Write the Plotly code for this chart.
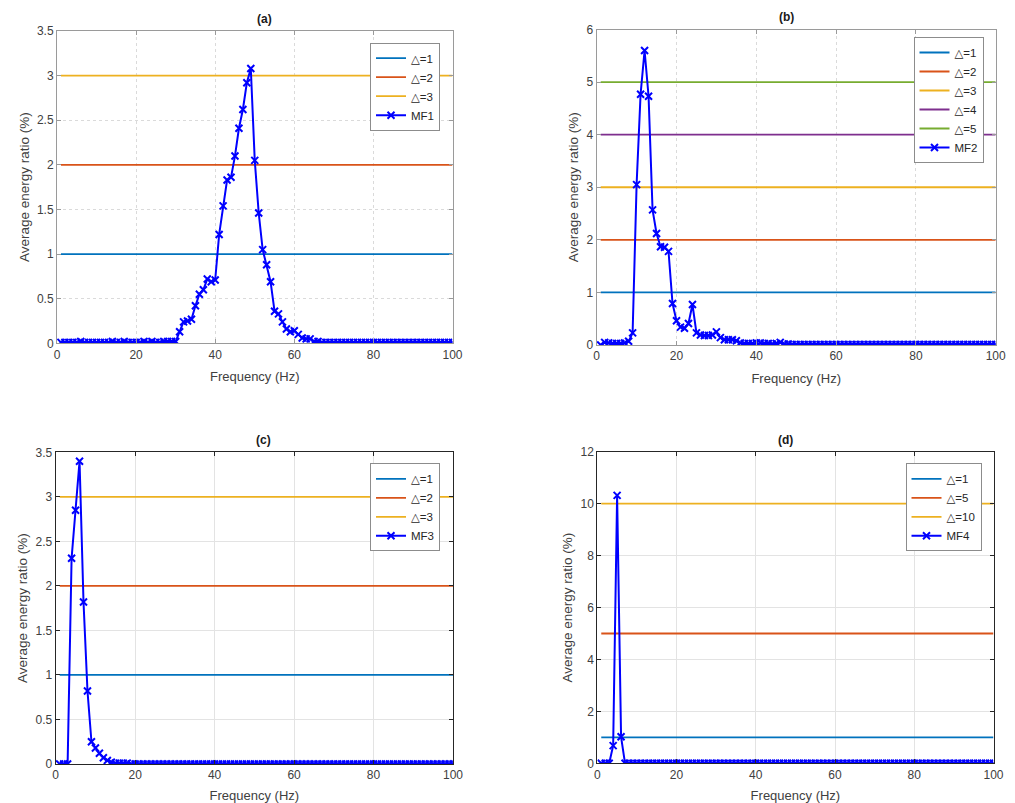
import plotly.graph_objects as go

# ---------------- data ----------------
freq = list(range(1, 101))

mf1 = [
    0.01, 0.01, 0.01, 0.01, 0.01, 0.02, 0.01, 0.01, 0.01, 0.01,
    0.01, 0.01, 0.01, 0.02, 0.01, 0.01, 0.02, 0.01, 0.01, 0.01,
    0.01, 0.02, 0.01, 0.02, 0.01, 0.01, 0.02, 0.02, 0.02, 0.02,
    0.13, 0.24, 0.25, 0.27, 0.42, 0.55, 0.60, 0.72, 0.69, 0.71,
    1.22, 1.54, 1.83, 1.86, 2.10, 2.41, 2.62, 2.92, 3.08, 2.05,
    1.46, 1.05, 0.88, 0.69, 0.36, 0.33, 0.24, 0.16, 0.13, 0.14,
    0.10, 0.06, 0.05, 0.05, 0.02, 0.02, 0.01, 0.01, 0.01, 0.01,
    0.01, 0.01, 0.01, 0.01, 0.01, 0.01, 0.01, 0.01, 0.01, 0.01,
    0.01, 0.01, 0.01, 0.01, 0.01, 0.01, 0.01, 0.01, 0.01, 0.01,
    0.01, 0.01, 0.01, 0.01, 0.01, 0.01, 0.01, 0.01, 0.01, 0.01,
]

mf2 = [
    0.00, 0.05, 0.04, 0.03, 0.03, 0.03, 0.04, 0.07, 0.23, 3.05,
    4.77, 5.60, 4.73, 2.57, 2.12, 1.87, 1.86, 1.78, 0.79, 0.46,
    0.34, 0.32, 0.41, 0.77, 0.23, 0.19, 0.18, 0.18, 0.19, 0.25,
    0.14, 0.10, 0.10, 0.10, 0.08, 0.04, 0.03, 0.03, 0.03, 0.04,
    0.04, 0.03, 0.03, 0.02, 0.03, 0.05, 0.02, 0.02, 0.01, 0.01,
    0.01, 0.01, 0.01, 0.01, 0.01, 0.01, 0.01, 0.01, 0.01, 0.01,
    0.01, 0.01, 0.01, 0.01, 0.01, 0.01, 0.01, 0.01, 0.01, 0.01,
    0.01, 0.01, 0.01, 0.01, 0.01, 0.01, 0.01, 0.01, 0.01, 0.01,
    0.01, 0.01, 0.01, 0.01, 0.01, 0.01, 0.01, 0.01, 0.01, 0.01,
    0.01, 0.01, 0.01, 0.01, 0.01, 0.01, 0.01, 0.01, 0.01, 0.01,
]

mf3 = [
    0.00, 0.00, 0.00, 2.31, 2.85, 3.40, 1.82, 0.82, 0.25, 0.18,
    0.12, 0.07, 0.04, 0.02, 0.01, 0.01, 0.01, 0.01, 0.00, 0.00,
    0.00, 0.00, 0.00, 0.00, 0.00, 0.00, 0.00, 0.00, 0.00, 0.00,
    0.00, 0.00, 0.00, 0.00, 0.00, 0.00, 0.00, 0.00, 0.00, 0.00,
    0.00, 0.00, 0.00, 0.00, 0.00, 0.00, 0.00, 0.00, 0.00, 0.00,
    0.00, 0.00, 0.00, 0.00, 0.00, 0.00, 0.00, 0.00, 0.00, 0.00,
    0.00, 0.00, 0.00, 0.00, 0.00, 0.00, 0.00, 0.00, 0.00, 0.00,
    0.00, 0.00, 0.00, 0.00, 0.00, 0.00, 0.00, 0.00, 0.00, 0.00,
    0.00, 0.00, 0.00, 0.00, 0.00, 0.00, 0.00, 0.00, 0.00, 0.00,
    0.00, 0.00, 0.00, 0.00, 0.00, 0.00, 0.00, 0.00, 0.00, 0.00,
]

mf4 = [
    0.00, 0.00, 0.00, 0.68, 10.32, 1.02, 0.00, 0.00, 0.00, 0.00,
    0.00, 0.00, 0.00, 0.00, 0.00, 0.00, 0.00, 0.00, 0.00, 0.00,
    0.00, 0.00, 0.00, 0.00, 0.00, 0.00, 0.00, 0.00, 0.00, 0.00,
    0.00, 0.00, 0.00, 0.00, 0.00, 0.00, 0.00, 0.00, 0.00, 0.00,
    0.00, 0.00, 0.00, 0.00, 0.00, 0.00, 0.00, 0.00, 0.00, 0.00,
    0.00, 0.00, 0.00, 0.00, 0.00, 0.00, 0.00, 0.00, 0.00, 0.00,
    0.00, 0.00, 0.00, 0.00, 0.00, 0.00, 0.00, 0.00, 0.00, 0.00,
    0.00, 0.00, 0.00, 0.00, 0.00, 0.00, 0.00, 0.00, 0.00, 0.00,
    0.00, 0.00, 0.00, 0.00, 0.00, 0.00, 0.00, 0.00, 0.00, 0.00,
    0.00, 0.00, 0.00, 0.00, 0.00, 0.00, 0.00, 0.00, 0.00, 0.00,
]

thresholds_a = [1, 2, 3]
thresholds_b = [1, 2, 3, 4, 5]
thresholds_c = [1, 2, 3]
thresholds_d = [1, 5, 10]

panel_titles = ["(a)", "(b)", "(c)", "(d)"]
series_names = ["MF1", "MF2", "MF3", "MF4"]
y_ranges = [[0, 3.5], [0, 6], [0, 3.5], [0, 12]]
y_dticks = [0.5, 1, 0.5, 2]
x_title = "Frequency (Hz)"
y_title = "Average energy ratio (%)"

# ---------------- style ----------------
OFF = 8  # page body margin offset
W, H = 1015 - OFF, 803 - OFF
FONT = "Liberation Sans, Arial, DejaVu Sans, sans-serif"
line_colors = ["#0072BD", "#D95319", "#EDB120", "#7E2F8E", "#77AC30"]
MF_COLOR = "#0000FF"

# pixel boxes in screenshot coords (left, right, top, bottom)
boxes = [
    (57, 452.5, 31, 343.3),
    (596.7, 995.7, 29.5, 345),
    (55.7, 453, 452.3, 764),
    (597.3, 993.5, 451.8, 763.3),
]
legend_pos = [  # right edge px, top px
    (440, 42.7),
    (983.5, 37),
    (440, 463.3),
    (981.5, 463.3),
]


def px_x(v):
    return (v - OFF) / W


def px_y(v):
    return 1 - (v - OFF) / H


all_mf = [mf1, mf2, mf3, mf4]
all_thr = [thresholds_a, thresholds_b, thresholds_c, thresholds_d]

fig = go.Figure()
layout = dict(
    width=W, height=H, margin=dict(l=0, r=0, t=0, b=0, autoexpand=False),
    paper_bgcolor="white", plot_bgcolor="white",
    font=dict(family=FONT, size=11, color="#404040"),
    showlegend=True,
)
annotations = []

for i in range(4):
    n = i + 1
    xa = "x" if n == 1 else f"x{n}"
    ya = "y" if n == 1 else f"y{n}"
    lg = "legend" if n == 1 else f"legend{n}"
    l, r, t, b = boxes[i]
    top_style = i < 2
    axcol = "#9a9a9a" if top_style else "#262626"
    gridcol = "#dadada" if top_style else "#e3e3e3"
    griddash = "dot" if top_style else "solid"

    for k, thr in enumerate(all_thr[i]):
        fig.add_trace(go.Scatter(
            x=[freq[0], freq[-1]], y=[thr, thr], mode="lines",
            line=dict(color=line_colors[k], width=1.8),
            name=f"△={thr}", xaxis=xa, yaxis=ya, legend=lg,
        ))
    fig.add_trace(go.Scatter(
        x=freq, y=all_mf[i], mode="lines+markers",
        line=dict(color=MF_COLOR, width=2),
        marker=dict(symbol="x-thin", size=7, line=dict(color=MF_COLOR, width=2)),
        name=series_names[i], xaxis=xa, yaxis=ya, legend=lg,
    ))

    xkey = "xaxis" if n == 1 else f"xaxis{n}"
    ykey = "yaxis" if n == 1 else f"yaxis{n}"
    layout[xkey] = dict(
        domain=[px_x(l), px_x(r)], anchor=ya, range=[0, 100], dtick=20, tick0=0,
        showline=True, linecolor=axcol, linewidth=1, mirror="ticks",
        ticks="inside", ticklen=4, tickcolor=axcol,
        showgrid=True, gridcolor=gridcol, griddash=griddash, gridwidth=1,
        zeroline=False, tickfont=dict(size=12), automargin=False,
        title=dict(text=x_title, font=dict(size=13), standoff=11),
    )
    layout[ykey] = dict(
        domain=[px_y(b), px_y(t)], anchor=xa, range=y_ranges[i],
        dtick=y_dticks[i], tick0=0,
        showline=True, linecolor=axcol, linewidth=1, mirror="ticks",
        ticks="inside", ticklen=4, tickcolor=axcol,
        showgrid=True, gridcolor=gridcol, griddash=griddash, gridwidth=1,
        zeroline=False, tickfont=dict(size=12), automargin=False,
        title=dict(text=y_title, font=dict(size=13.5), standoff=4),
    )
    lx, ly = legend_pos[i]
    layout[lg] = dict(
        x=px_x(lx), y=px_y(ly), xanchor="right", yanchor="top",
        xref="paper", yref="paper",
        bgcolor="white", bordercolor="#8c8c8c", borderwidth=1,
        font=dict(size=11.5, color="#262626"), tracegroupgap=0,
        itemwidth=30,
    )
    annotations.append(dict(
        text=f"<b>{panel_titles[i]}</b>", x=px_x((l + r) / 2), y=px_y(t - 12),
        xref="paper", yref="paper", showarrow=False,
        font=dict(size=12, color="#1a1a1a"), yanchor="middle",
    ))

layout["annotations"] = annotations
fig.update_layout(**layout)
fig.write_html("out.html")
